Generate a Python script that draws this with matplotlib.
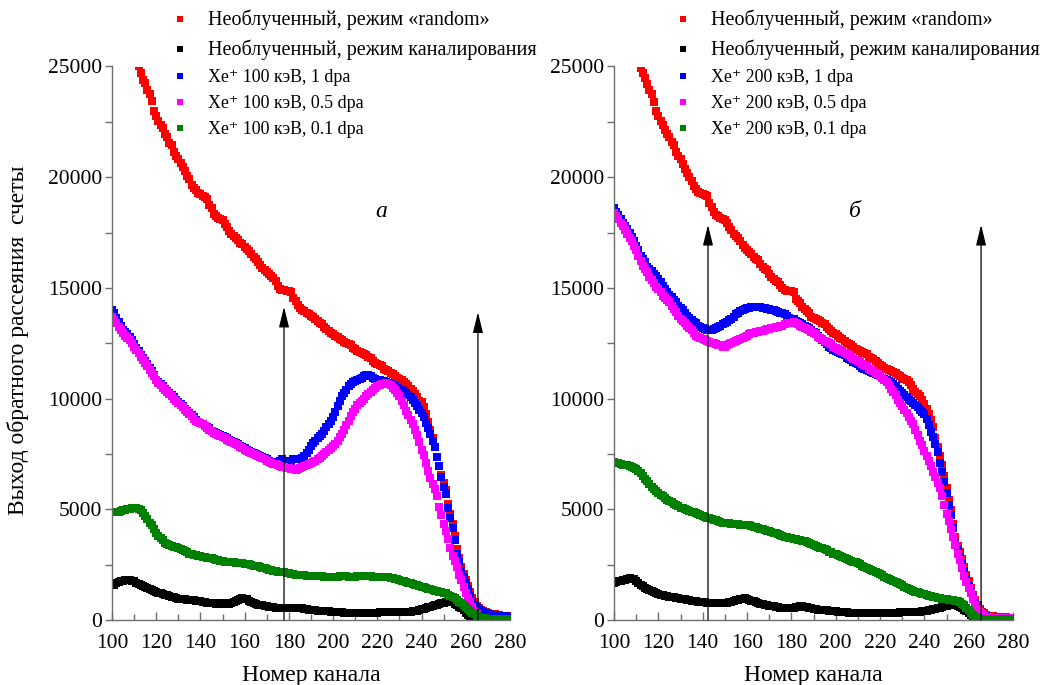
import numpy as np
import matplotlib
matplotlib.use("Agg")
import matplotlib.pyplot as plt
from matplotlib.ticker import MultipleLocator

# ---------------- data (channel 100..280, step 1) ----------------
channels = list(range(100, 281))

a_random = [
    28600, 28300, 28000, 27700, 27400, 27100, 26800, 26500, 26200, 25900,
    25600, 25300, 25000, 24700, 24400, 24250, 23950, 23750, 23450, 23000,
    22750, 22550, 22350, 22200, 21950, 21800, 21550, 21450, 21150, 20950,
    20800, 20650, 20450, 20300, 20050, 19900, 19650, 19500, 19400, 19300,
    19250, 19150, 19100, 19000, 18750, 18600, 18350, 18250, 18150, 18100,
    18050, 17900, 17750, 17550, 17450, 17350, 17250, 17150, 17050, 17000,
    16850, 16750, 16650, 16550, 16400, 16300, 16150, 16050, 15900, 15800,
    15700, 15650, 15550, 15450, 15300, 15100, 14950, 14900, 14900, 14850,
    14850, 14800, 14550, 14400, 14250, 14100, 14000, 13950, 13850, 13800,
    13750, 13700, 13600, 13500, 13400, 13350, 13250, 13150, 13050, 12950,
    12900, 12850, 12800, 12700, 12650, 12550, 12500, 12450, 12400, 12300,
    12250, 12150, 12100, 12050, 12000, 11950, 11900, 11850, 11700, 11600,
    11550, 11500, 11450, 11350, 11300, 11250, 11150, 11100, 11000, 10950,
    10900, 10850, 10750, 10650, 10550, 10450, 10350, 10200, 10050, 9900,
    9850, 9600, 9300, 8950, 8600, 8200, 7800, 7350, 6950, 6550,
    6200, 5850, 5250, 4800, 4350, 3800, 3200, 2800, 2400, 2100,
    1800, 1550, 1250, 1000, 800, 650, 520, 450, 400, 350,
    320, 290, 270, 250, 230, 215, 200, 190, 180, 175, 170]

a_channeling = [
    1580, 1600, 1650, 1700, 1750, 1780, 1800, 1820, 1810, 1780,
    1740, 1690, 1640, 1580, 1520, 1470, 1430, 1390, 1350, 1310,
    1270, 1230, 1200, 1170, 1140, 1110, 1080, 1050, 1020, 990,
    970, 950, 940, 930, 920, 910, 900, 890, 880, 870,
    850, 830, 810, 790, 770, 760, 750, 740, 740, 750,
    750, 740, 730, 740, 760, 800, 850, 900, 950, 980,
    970, 930, 880, 830, 780, 740, 700, 680, 660, 640,
    620, 600, 580, 570, 560, 550, 540, 530, 530, 530,
    530, 520, 520, 530, 540, 530, 520, 500, 480, 460,
    450, 440, 430, 420, 410, 400, 400, 390, 390, 380,
    380, 370, 360, 350, 340, 330, 320, 320, 310, 310,
    300, 300, 300, 300, 300, 300, 300, 310, 310, 320,
    330, 340, 350, 360, 370, 380, 380, 380, 380, 380,
    380, 380, 380, 380, 380, 380, 390, 400, 420, 450,
    480, 510, 540, 570, 600, 630, 660, 690, 720, 760,
    790, 820, 840, 830, 800, 740, 680, 600, 520, 430,
    330, 230, 150, 90, 50, 30, 20, 10, 10, 10,
    10, 10, 10, 10, 10, 10, 10, 10, 10, 10, 10]

a_1dpa = [
    14000, 13850, 13650, 13450, 13300, 13100, 13000, 12900, 12800, 12650,
    12450, 12300, 12150, 11950, 11850, 11700, 11550, 11400, 11250, 11050,
    10850, 10750, 10650, 10550, 10450, 10350, 10250, 10150, 10050, 9950,
    9850, 9750, 9650, 9550, 9450, 9350, 9250, 9150, 9050, 8950,
    8900, 8850, 8750, 8700, 8650, 8550, 8500, 8450, 8400, 8350,
    8300, 8250, 8200, 8150, 8100, 8050, 8000, 7950, 7850, 7800,
    7750, 7700, 7650, 7600, 7550, 7500, 7450, 7400, 7350, 7300,
    7250, 7200, 7150, 7150, 7100, 7150, 7200, 7250, 7200, 7150,
    7200, 7200, 7250, 7250, 7250, 7250, 7300, 7400, 7550, 7700,
    7850, 8000, 8100, 8200, 8300, 8400, 8550, 8700, 8850, 9000,
    9150, 9400, 9650, 9900, 10100, 10250, 10400, 10550, 10650, 10750,
    10800, 10850, 10900, 10950, 11000, 11050, 11050, 11000, 10950, 10900,
    10850, 10850, 10800, 10800, 10750, 10700, 10650, 10600, 10550, 10500,
    10450, 10400, 10350, 10250, 10150, 10050, 9950, 9800, 9650, 9500,
    9350, 9150, 8900, 8650, 8400, 8100, 7800, 7350, 6950, 6450,
    6000, 5700, 5050, 4600, 4150, 3600, 3000, 2600, 2200, 1950,
    1650, 1400, 1100, 850, 700, 550, 450, 400, 350, 310,
    280, 260, 240, 220, 200, 190, 180, 170, 160, 155, 150]

a_05dpa = [
    13700, 13550, 13400, 13250, 13100, 12950, 12850, 12750, 12650, 12500,
    12350, 12200, 12050, 11900, 11750, 11600, 11450, 11300, 11150, 11000,
    10850, 10700, 10600, 10500, 10400, 10300, 10200, 10100, 10000, 9900,
    9800, 9700, 9600, 9500, 9400, 9300, 9200, 9100, 9000, 8950,
    8900, 8850, 8750, 8650, 8600, 8550, 8450, 8400, 8350, 8300,
    8250, 8200, 8150, 8100, 8050, 8000, 7950, 7900, 7800, 7750,
    7700, 7650, 7600, 7550, 7500, 7450, 7400, 7350, 7300, 7250,
    7200, 7150, 7100, 7050, 7050, 7000, 6950, 6900, 6900, 6850,
    6850, 6800, 6800, 6780, 6800, 6850, 6900, 6950, 7000, 7050,
    7100, 7150, 7200, 7250, 7300, 7400, 7500, 7600, 7700, 7750,
    7850, 7950, 8100, 8250, 8400, 8600, 8800, 9000, 9200, 9400,
    9550, 9700, 9800, 9900, 10000, 10100, 10200, 10300, 10400, 10500,
    10550, 10600, 10650, 10650, 10700, 10650, 10600, 10500, 10400, 10250,
    10100, 9900, 9700, 9450, 9250, 9050, 8850, 8600, 8350, 8050,
    7700, 7450, 7100, 6750, 6400, 6150, 5900, 5600, 5100, 4750,
    4350, 4000, 3650, 3250, 2900, 2650, 2400, 2050, 1800, 1500,
    1200, 1000, 800, 600, 400, 250, 120, 80, 60, 50,
    50, 50, 50, 50, 50, 50, 50, 50, 50, 50, 50]

a_01dpa = [
    4900, 4900, 4880, 4900, 4920, 4950, 4950, 5000, 5020, 5050,
    5050, 5050, 5000, 4950, 4850, 4700, 4550, 4400, 4300, 4100,
    3950, 3800, 3700, 3600, 3500, 3450, 3400, 3350, 3300, 3280,
    3250, 3200, 3150, 3100, 3050, 3000, 2970, 2950, 2930, 2900,
    2880, 2860, 2840, 2820, 2800, 2790, 2760, 2730, 2700, 2680,
    2660, 2640, 2630, 2620, 2610, 2600, 2590, 2580, 2570, 2560,
    2550, 2530, 2510, 2490, 2460, 2440, 2420, 2400, 2370, 2340,
    2310, 2280, 2250, 2220, 2200, 2180, 2170, 2160, 2150, 2130,
    2110, 2090, 2070, 2050, 2040, 2030, 2020, 2010, 2000, 2000,
    1990, 1980, 1980, 1970, 1970, 1970, 1960, 1960, 1960, 1960,
    1960, 1960, 1960, 1970, 1970, 1970, 1970, 1960, 1960, 1960,
    1960, 1970, 1970, 1980, 1980, 1980, 1970, 1970, 1960, 1960,
    1960, 1950, 1950, 1940, 1930, 1920, 1900, 1880, 1860, 1830,
    1800, 1770, 1740, 1710, 1680, 1650, 1620, 1590, 1560, 1530,
    1500, 1480, 1450, 1420, 1390, 1360, 1330, 1300, 1280, 1250,
    1230, 1200, 1150, 1100, 1050, 980, 900, 830, 760, 680,
    580, 480, 400, 320, 250, 190, 150, 110, 90, 70,
    60, 50, 45, 40, 35, 30, 30, 30, 30, 30, 30]

b_random = [
    28600, 28300, 28000, 27700, 27400, 27100, 26800, 26500, 26200, 25900,
    25600, 25300, 24950, 24700, 24500, 24200, 23950, 23750, 23400, 23000,
    22750, 22550, 22350, 22150, 21950, 21800, 21600, 21450, 21150, 20950,
    20800, 20600, 20350, 20200, 20000, 19850, 19600, 19450, 19350, 19300,
    19250, 19200, 19150, 18850, 18650, 18450, 18300, 18250, 18150, 18100,
    18050, 17950, 17750, 17600, 17450, 17350, 17250, 17100, 16950, 16800,
    16700, 16600, 16550, 16400, 16300, 16250, 16100, 15950, 15850, 15800,
    15650, 15500, 15400, 15300, 15250, 15150, 15000, 14900, 14850, 14850,
    14850, 14800, 14500, 14400, 14300, 14150, 14050, 13950, 13850, 13700,
    13650, 13600, 13550, 13500, 13400, 13350, 13250, 13150, 13050, 12950,
    12900, 12850, 12750, 12700, 12600, 12500, 12450, 12400, 12350, 12250,
    12200, 12150, 12100, 12050, 12000, 11900, 11850, 11800, 11700, 11600,
    11500, 11450, 11400, 11350, 11300, 11250, 11200, 11150, 11050, 11000,
    10950, 10900, 10850, 10750, 10600, 10450, 10300, 10200, 10100, 9950,
    9750, 9550, 9300, 9050, 8700, 8200, 7800, 7400, 7000, 6500,
    5950, 5400, 4950, 4350, 3750, 3350, 3050, 2750, 2400, 2050,
    1750, 1450, 1150, 900, 680, 500, 380, 300, 240, 200,
    180, 160, 150, 140, 130, 125, 120, 115, 110, 110, 110]

b_channeling = [
    1650, 1700, 1750, 1780, 1800, 1820, 1850, 1880, 1870, 1830,
    1760, 1680, 1600, 1520, 1450, 1400, 1350, 1300, 1260, 1220,
    1180, 1140, 1120, 1100, 1080, 1060, 1040, 1020, 1000, 980,
    960, 950, 930, 910, 890, 870, 860, 850, 830, 820,
    810, 800, 790, 780, 770, 760, 750, 750, 750, 750,
    760, 780, 800, 830, 860, 890, 920, 950, 970, 980,
    960, 920, 880, 840, 800, 770, 740, 710, 690, 670,
    650, 630, 610, 590, 570, 560, 550, 540, 530, 530,
    540, 560, 580, 600, 610, 610, 600, 580, 550, 520,
    500, 480, 470, 460, 450, 440, 430, 420, 410, 400,
    390, 380, 370, 360, 350, 340, 330, 320, 310, 300,
    300, 300, 300, 300, 300, 300, 300, 300, 300, 300,
    300, 300, 300, 300, 310, 320, 320, 330, 330, 340,
    340, 350, 350, 350, 360, 360, 370, 370, 380, 390,
    400, 420, 440, 460, 480, 500, 530, 560, 590, 620,
    650, 670, 680, 690, 680, 650, 600, 540, 470, 400,
    320, 220, 150, 90, 50, 20, 10, 10, 10, 10,
    10, 10, 10, 10, 10, 10, 10, 10, 10, 10, 10]

b_1dpa = [
    18600, 18450, 18300, 18100, 17950, 17800, 17650, 17500, 17300, 17100,
    16900, 16700, 16450, 16300, 16150, 15950, 15850, 15750, 15650, 15550,
    15400, 15250, 15100, 14950, 14800, 14700, 14600, 14450, 14350, 14200,
    14100, 14000, 13850, 13750, 13650, 13550, 13450, 13400, 13300, 13250,
    13200, 13150, 13100, 13100, 13100, 13150, 13200, 13250, 13300, 13350,
    13400, 13450, 13550, 13600, 13700, 13800, 13850, 13950, 14000, 14050,
    14100, 14100, 14150, 14150, 14150, 14150, 14150, 14100, 14100, 14050,
    14050, 14000, 14000, 13950, 13900, 13850, 13850, 13800, 13750, 13650,
    13600, 13600, 13500, 13450, 13400, 13350, 13300, 13250, 13200, 13100,
    13000, 12950, 12850, 12750, 12650, 12550, 12450, 12350, 12300, 12200,
    12150, 12100, 12050, 12000, 11950, 11850, 11800, 11750, 11650, 11600,
    11550, 11450, 11400, 11350, 11300, 11250, 11200, 11150, 11100, 11050,
    11000, 10950, 10900, 10850, 10800, 10750, 10650, 10550, 10450, 10350,
    10250, 10150, 10050, 9950, 9900, 9800, 9700, 9600, 9500, 9400,
    9300, 9100, 8800, 8500, 8250, 7950, 7600, 7100, 6700, 6250,
    5750, 5200, 4750, 4150, 3500, 3150, 2850, 2550, 2200, 1850,
    1550, 1250, 1000, 750, 550, 400, 300, 230, 180, 150,
    130, 120, 110, 100, 95, 90, 85, 80, 80, 80, 80]

b_05dpa = [
    18400, 18250, 18100, 17950, 17800, 17600, 17450, 17250, 17100, 16900,
    16700, 16450, 16200, 16000, 15850, 15700, 15500, 15350, 15200, 15050,
    14950, 14800, 14650, 14550, 14450, 14350, 14200, 14050, 13900, 13750,
    13600, 13500, 13400, 13300, 13200, 13100, 12950, 12850, 12800, 12750,
    12700, 12650, 12600, 12550, 12500, 12500, 12450, 12400, 12400, 12350,
    12350, 12400, 12450, 12500, 12550, 12600, 12650, 12700, 12750, 12800,
    12850, 12900, 12950, 12950, 13000, 13000, 13050, 13050, 13100, 13150,
    13150, 13200, 13200, 13250, 13250, 13300, 13300, 13350, 13400, 13400,
    13400, 13450, 13400, 13350, 13300, 13250, 13200, 13150, 13100, 13000,
    12950, 12900, 12800, 12750, 12700, 12600, 12550, 12500, 12450, 12350,
    12300, 12250, 12200, 12150, 12050, 12000, 11950, 11900, 11800, 11750,
    11700, 11650, 11550, 11500, 11450, 11350, 11300, 11250, 11150, 11100,
    11000, 10950, 10850, 10750, 10600, 10450, 10300, 10150, 9950, 9800,
    9650, 9500, 9350, 9150, 9000, 8850, 8600, 8350, 8100, 7900,
    7650, 7400, 7200, 6950, 6700, 6450, 6200, 5950, 5600, 5200,
    4800, 4450, 4100, 3750, 3400, 3000, 2700, 2350, 2000, 1700,
    1450, 1200, 950, 700, 500, 380, 280, 200, 150, 120,
    100, 90, 85, 80, 80, 80, 80, 80, 80, 80, 80]

b_01dpa = [
    7150, 7100, 7080, 7050, 7020, 7000, 6980, 6950, 6900, 6880,
    6800, 6720, 6620, 6500, 6380, 6260, 6140, 6020, 5920, 5830,
    5740, 5660, 5580, 5500, 5430, 5370, 5310, 5250, 5190, 5130,
    5080, 5040, 5000, 4970, 4930, 4900, 4860, 4820, 4780, 4740,
    4700, 4670, 4620, 4590, 4560, 4530, 4500, 4460, 4420, 4400,
    4380, 4370, 4360, 4350, 4340, 4330, 4320, 4310, 4300, 4300,
    4290, 4270, 4240, 4210, 4180, 4150, 4120, 4100, 4070, 4040,
    4010, 3980, 3950, 3920, 3880, 3850, 3810, 3770, 3740, 3710,
    3690, 3670, 3650, 3630, 3600, 3580, 3550, 3510, 3470, 3430,
    3390, 3350, 3310, 3270, 3230, 3190, 3140, 3090, 3050, 3000,
    2960, 2920, 2880, 2840, 2800, 2760, 2720, 2680, 2640, 2600,
    2560, 2510, 2460, 2410, 2360, 2310, 2260, 2210, 2160, 2110,
    2060, 2010, 1960, 1910, 1860, 1810, 1760, 1710, 1660, 1610,
    1560, 1510, 1460, 1410, 1360, 1310, 1280, 1250, 1220, 1190,
    1160, 1130, 1100, 1070, 1050, 1030, 1010, 990, 970, 950,
    930, 920, 910, 900, 880, 850, 800, 740, 660, 560,
    450, 320, 220, 150, 90, 50, 40, 35, 30, 30,
    30, 30, 30, 30, 30, 30, 30, 30, 30, 30, 30]

legend_a = ["Необлученный, режим «random»",
            "Необлученный, режим каналирования",
            "Xe\u207a 100 кэВ, 1 dpa",
            "Xe\u207a 100 кэВ, 0.5 dpa",
            "Xe\u207a 100 кэВ, 0.1 dpa"]
legend_b = ["Необлученный, режим «random»",
            "Необлученный, режим каналирования",
            "Xe\u207a 200 кэВ, 1 dpa",
            "Xe\u207a 200 кэВ, 0.5 dpa",
            "Xe\u207a 200 кэВ, 0.1 dpa"]
series_colors = ["#ff0000", "#000000", "#0000ff", "#ff00ff", "#008000"]

# arrows: (channel, tip value)
arrows_a = [(177.8, 14150), (265.5, 13900)]
arrows_b = [(142.4, 17850), (265.6, 17850)]

x_label = "Номер канала"
y_label = "Выход обратного рассеяния  счеты"

# ---------------- style ----------------
plt.rcParams['font.family'] = ['Liberation Serif', 'DejaVu Serif', 'DejaVu Sans']

W, H = 1041, 685
fig = plt.figure(figsize=(W / 100, H / 100), dpi=100)

axis_col = '#6e6e6e'


def make_axes(left_px, right_px, data, labels, arrows, letter, letter_x, leg_x):
    ax = fig.add_axes([left_px / W, (H - 620) / H, (right_px - left_px) / W, (620 - 66.5) / H])
    for vals, col, lab in zip(data, series_colors, labels):
        assert len(vals) == len(channels)
        ax.plot(channels, vals, linestyle='none', marker='s', markersize=5.2,
                markeredgewidth=0, color=col, label=lab)
    ax.set_xlim(100, 280)
    ax.set_ylim(0, 25000)
    for s in ['top', 'right']:
        ax.spines[s].set_visible(False)
    for s in ['left', 'bottom']:
        ax.spines[s].set_color(axis_col)
        ax.spines[s].set_linewidth(1.0)
    ax.xaxis.set_major_locator(MultipleLocator(20))
    ax.xaxis.set_minor_locator(MultipleLocator(10))
    ax.yaxis.set_major_locator(MultipleLocator(5000))
    ax.yaxis.set_minor_locator(MultipleLocator(2500))
    ax.tick_params(axis='x', which='major', direction='in', length=5.5, width=1,
                   color=axis_col, labelsize=15.5, pad=10)
    ax.tick_params(axis='x', which='minor', direction='in', length=4.5, width=1, color=axis_col)
    ax.tick_params(axis='y', which='major', direction='out', length=5, width=1,
                   color=axis_col, labelsize=15.5, pad=2)
    ax.tick_params(axis='y', which='minor', direction='out', length=5, width=1, color=axis_col)
    ax.set_xlabel(x_label, fontsize=17, labelpad=9)
    for (cx, tip) in arrows:
        ax.annotate('', xy=(cx, tip), xytext=(cx, 0),
                    arrowprops=dict(arrowstyle='-|>,head_length=0.9,head_width=0.22',
                                    color='black', lw=0.9, mutation_scale=14,
                                    shrinkA=0, shrinkB=0))
    ax.text(letter_x, 18430, letter, fontsize=17, style='italic', ha='center', va='center')
    leg = ax.legend(loc='upper left', bbox_to_anchor=(leg_x / W, 1 - 10 / H),
                    bbox_transform=fig.transFigure, frameon=False, fontsize=12.9,
                    handlelength=0.6, handletextpad=1.27, labelspacing=0.5,
                    borderpad=0, borderaxespad=0, markerscale=0.9)
    texts = leg.get_texts()
    for t in texts[:2]:
        t.set_fontsize(14.5)
    return ax


ax1 = make_axes(112, 510, [a_random, a_channeling, a_1dpa, a_05dpa, a_01dpa],
                legend_a, arrows_a, 'а', 221.7, 174.6)
ax2 = make_axes(614, 1013, [b_random, b_channeling, b_1dpa, b_05dpa, b_01dpa],
                legend_b, arrows_b, 'б', 208.7, 677.6)

fig.text(18 / W, 1 - 340 / H, y_label, rotation=90, fontsize=17, ha='center', va='center')

fig.savefig('out.png', dpi=100)
